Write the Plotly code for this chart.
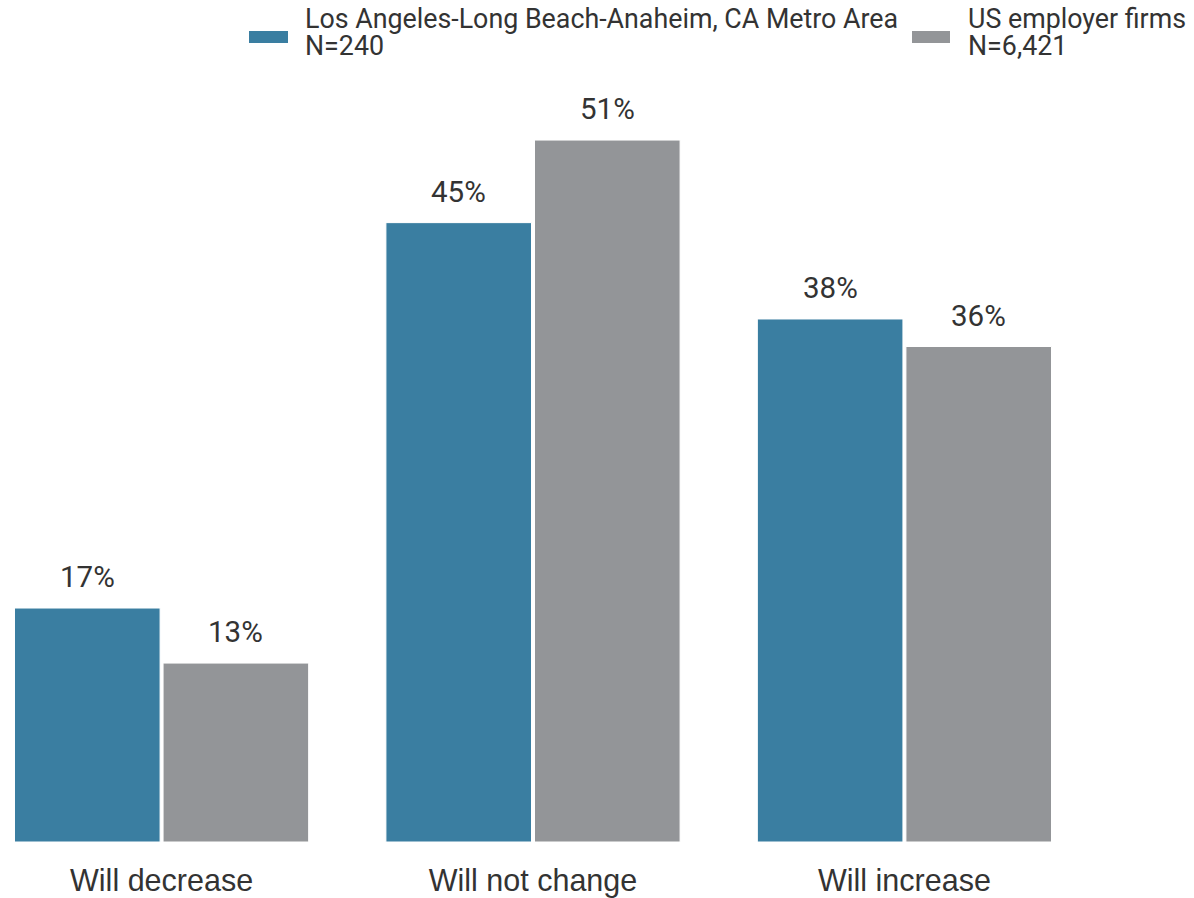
import plotly.graph_objects as go

categories = ["Will decrease", "Will not change", "Will increase"]
la_values = [17, 45, 38]
us_values = [13, 51, 36]
la_label = ["Los Angeles-Long Beach-Anaheim, CA Metro Area", "N=240"]
us_label = ["US employer firms", "N=6,421"]

BLUE = "#3a7ea1"
GRAY = "#939598"
TXT = "#333333"

BARGAP = 0.2
half = (1 - BARGAP) / 4  # centre offset of each bar inside its group

W, H = 1194, 898
L, R, T, B = 13, 141, 85, 56
PH = H - T - B

fig = go.Figure()
for name, vals, color in [(la_label, la_values, BLUE), (us_label, us_values, GRAY)]:
    fig.add_trace(
        go.Bar(
            x=categories,
            y=vals,
            name=" ".join(name),
            marker=dict(color=color, line=dict(color="white", width=1)),
            showlegend=False,
        )
    )

# value labels above the bars
for k, vals in enumerate([la_values, us_values]):
    off = -half if k == 0 else half
    for i, v in enumerate(vals):
        fig.add_annotation(
            x=i + off, y=v, xref="x", yref="y",
            text=f"{v}%", showarrow=False,
            yanchor="middle", yshift=31,
            font=dict(family="Roboto", size=29.5, color=TXT),
        )


# custom legend with wide swatches (positions in page pixels)
def px_x(p):
    return (p - L) / (W - L - R)


def px_y(p):
    return (H - B - p) / PH


for (x0, x1, xt), label, color in [
    ((249, 288, 306), la_label, BLUE),
    ((912, 950, 969), us_label, GRAY),
]:
    fig.add_shape(
        type="rect", xref="paper", yref="paper",
        x0=px_x(x0), x1=px_x(x1), y0=px_y(43), y1=px_y(31),
        fillcolor=color, line=dict(width=0),
    )
    for j, line in enumerate(label):
        fig.add_annotation(
            x=px_x(xt), y=px_y(19.5 + 26.5 * j), xref="paper", yref="paper",
            text=line, showarrow=False, xanchor="left", yanchor="middle",
            xshift=-2, borderpad=0,
            font=dict(family="Roboto", size=26.8, color=TXT),
        )

fig.update_layout(
    width=W,
    height=H,
    barmode="group",
    bargap=BARGAP,
    bargroupgap=0.02,
    plot_bgcolor="white",
    paper_bgcolor="white",
    margin=dict(l=L, r=R, t=T, b=B, autoexpand=False),
    xaxis=dict(
        range=[-0.4, 2.4],
        showline=False,
        showgrid=False,
        ticks="",
        ticklabelstandoff=17,
        tickfont=dict(family="Liberation Sans", size=30.5, color=TXT),
    ),
    yaxis=dict(range=[0, 55], visible=False),
)

# drop the default 8px body margin so the figure fills the window
fig.write_html(
    "out.html",
    config={"displayModeBar": False},
    post_script="document.body.style.margin='0';",
)
